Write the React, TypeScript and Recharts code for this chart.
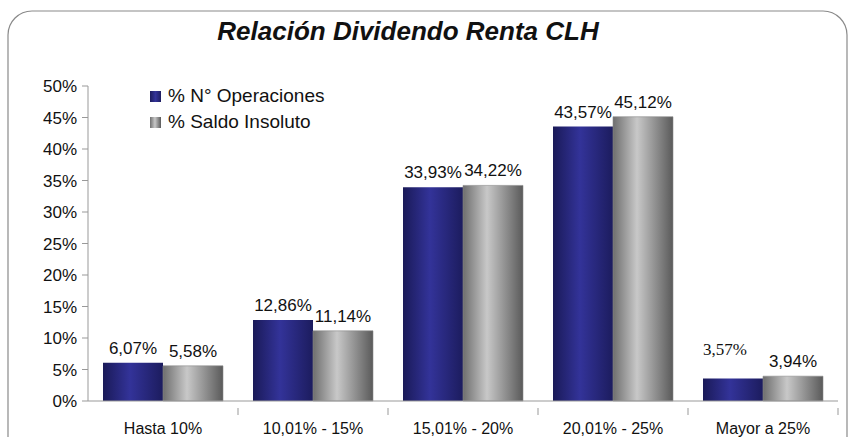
import { BarChart, Bar, XAxis, YAxis, LabelList } from 'recharts'

const categories = ['Hasta 10%', '10,01% - 15%', '15,01% - 20%', '20,01% - 25%', 'Mayor a 25%']
const operaciones = [6.07, 12.86, 33.93, 43.57, 3.57]
const saldo = [5.58, 11.14, 34.22, 45.12, 3.94]
const yTicks = [0, 5, 10, 15, 20, 25, 30, 35, 40, 45, 50]

const data = categories.map((name, i) => ({ name, ops: operaciones[i], saldo: saldo[i] }))

const FONT = '"Liberation Sans", Arial, sans-serif'

const fmt = (v: number) => v.toFixed(2).replace('.', ',') + '%'

// la etiqueta 3,57% sale en serif en el original
const ValueLabel = (props: any) => {
  const { x, y, width, value, index, serif } = props
  const isSerif = serif && index === 4
  return (
    <text
      x={x + width / 2 + (isSerif ? -8 : 0)}
      y={y - (isSerif ? 24 : 9)}
      textAnchor="middle"
      fontFamily={isSerif ? '"Liberation Serif", "Times New Roman", serif' : FONT}
      fontSize={isSerif ? 17 : 17}
      fill="#111"
    >
      {fmt(value)}
    </text>
  )
}

const CatTick = (props: any) => {
  const { x, y, payload } = props
  const off = payload.offset || 0
  return (
    <g>
      <line x1={x + off} y1={y - 1} x2={x + off} y2={y + 6} stroke="#999" />
      <text x={x} y={y + 25} textAnchor="middle" fontFamily={FONT} fontSize={16} fill="#111">
        {payload.value}
      </text>
    </g>
  )
}

const legendItems = [
  { label: '% N° Operaciones', bg: 'linear-gradient(90deg,#1c1c5c,#333399 50%,#1e1e60)' },
  { label: '% Saldo Insoluto', bg: 'linear-gradient(90deg,#707070,#c8c8c8 45%,#5a5a5a)' },
]

export default function App() {
  return (
    <div style={{ position: 'fixed', left: 0, top: 0, width: 850, height: 437, background: '#fff' }}>
      <svg width={850} height={437} style={{ position: 'absolute', left: 0, top: 0 }}>
        <rect x={8} y={11} width={839} height={460} rx={24} fill="none" stroke="#8a8a8a" strokeWidth={1.2} />
      </svg>
      <div
        style={{
          position: 'absolute',
          left: 0,
          width: 816,
          top: 16,
          textAlign: 'center',
          fontFamily: FONT,
          fontSize: 26,
          fontWeight: 'bold',
          fontStyle: 'italic',
          color: '#111',
        }}
      >
        Relación Dividendo Renta CLH
      </div>
      <div style={{ position: 'absolute', left: 0, top: 0 }}>
        <BarChart
          width={850}
          height={437}
          data={data}
          margin={{ top: 86, right: 12, bottom: 0, left: 0 }}
          barCategoryGap="10%"
          barGap={0}
        >
          <defs>
            <linearGradient id="gBlue" x1="0" y1="0" x2="1" y2="0">
              <stop offset="0%" stopColor="#1a1a58" />
              <stop offset="45%" stopColor="#333399" />
              <stop offset="100%" stopColor="#1c1c5e" />
            </linearGradient>
            <linearGradient id="gGray" x1="0" y1="0" x2="1" y2="0">
              <stop offset="0%" stopColor="#6e6e6e" />
              <stop offset="40%" stopColor="#c8c8c8" />
              <stop offset="100%" stopColor="#5a5a5a" />
            </linearGradient>
          </defs>
          <XAxis
            dataKey="name"
            height={36}
            stroke="#999"
            tickLine={false}
            interval={0}
            tick={<CatTick />}
          />
          <YAxis
            width={88}
            domain={[0, 50]}
            ticks={yTicks}
            stroke="#999"
            tickSize={6}
            tickMargin={5}
            tickFormatter={(v) => `${v}%`}
            tick={{ fill: '#111', fontFamily: FONT, fontSize: 17 }}
          />
          <Bar dataKey="ops" name="% N° Operaciones" fill="url(#gBlue)" isAnimationActive={false}>
            <LabelList dataKey="ops" content={<ValueLabel serif />} />
          </Bar>
          <Bar dataKey="saldo" name="% Saldo Insoluto" fill="url(#gGray)" stroke="#8a8a8a" strokeWidth={0.6} isAnimationActive={false}>
            <LabelList dataKey="saldo" content={<ValueLabel />} />
          </Bar>
        </BarChart>
      </div>
      <div
        style={{
          position: 'absolute',
          left: 150,
          top: 83,
          fontFamily: FONT,
          fontSize: 19,
          color: '#111',
          lineHeight: '26px',
        }}
      >
        {legendItems.map((it) => (
          <div key={it.label} style={{ display: 'flex', alignItems: 'center' }}>
            <span style={{ width: 11, height: 11, background: it.bg, display: 'inline-block', marginRight: 7 }} />
            {it.label}
          </div>
        ))}
      </div>
    </div>
  )
}
